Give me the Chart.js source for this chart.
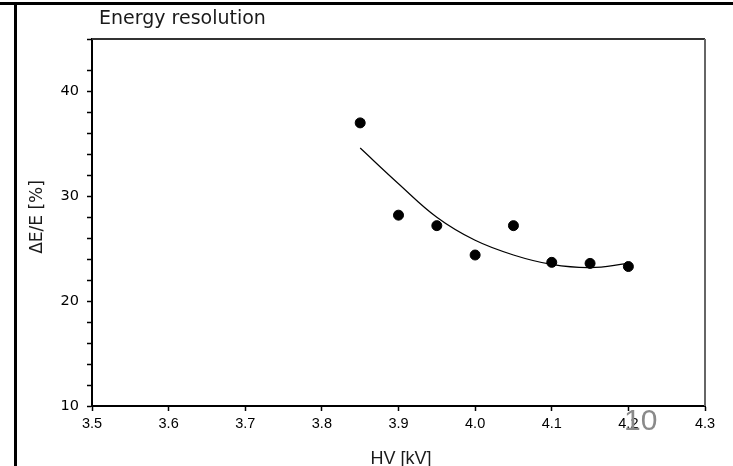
<!DOCTYPE html>
<html>
<head>
<meta charset="utf-8">
<script src="https://cdn.jsdelivr.net/npm/chart.js"></script>
<style>
  html, body { margin: 0; padding: 0; background: #fff; }
  #wrap { position: relative; width: 733px; height: 466px; }
</style>
</head>
<body>
<div id="wrap"><canvas id="chart"></canvas></div>
<script>
// measured points (HV in kV, resolution in %)
const hv = [3.85, 3.9, 3.95, 4.0, 4.05, 4.1, 4.15, 4.2];
const resolution = [37.0, 28.2, 27.2, 24.4, 27.2, 23.7, 23.6, 23.3];

// fitted curve
const fitHv = [3.85, 3.9, 3.95, 4.0, 4.05, 4.1, 4.15, 4.2];
const fitResolution = [34.6, 31.2, 28.0, 25.8, 24.4, 23.5, 23.2, 23.6];

// y tick values that carry a label (minor ticks every 2)
const yLabelValues = [10, 20, 30, 40];

const toXY = (xs, ys) => xs.map((x, i) => ({x: x, y: ys[i]}));

// frame, titles and the page number drawn on top of the chart
const decorations = {
    id: 'decorations',
    beforeDatasetsDraw(chart) {
        const {ctx, chartArea: a} = chart;
        ctx.save();
        ctx.lineWidth = 2;
        ctx.strokeStyle = '#333';
        ctx.beginPath();
        ctx.moveTo(a.left, a.top);
        ctx.lineTo(a.right, a.top);
        ctx.stroke();
        ctx.strokeStyle = '#666';
        ctx.beginPath();
        ctx.moveTo(a.right, a.top);
        ctx.lineTo(a.right, a.bottom);
        ctx.stroke();
        ctx.restore();
    },
    afterDraw(chart) {
        const ctx = chart.ctx;
        ctx.save();
        // outer page frame
        ctx.fillStyle = '#000';
        ctx.fillRect(0, 2, 733, 3);
        ctx.fillRect(14, 2, 3, 464);

        ctx.fillStyle = '#1a1a1a';
        ctx.textBaseline = 'alphabetic';
        ctx.textAlign = 'left';
        ctx.font = '19px "DejaVu Sans"';
        ctx.fillText('Energy resolution', 99, 24);

        ctx.textAlign = 'center';
        ctx.font = '18px "Liberation Sans"';
        ctx.fillText('HV [kV]', 401, 464);

        ctx.save();
        ctx.translate(42, 217);
        ctx.rotate(-Math.PI / 2);
        ctx.font = '17px "DejaVu Sans"';
        ctx.fillText('\u0394E/E [%]', 0, 0);
        ctx.restore();

        // page number overlay
        ctx.fillStyle = '#8a8a8a';
        ctx.textAlign = 'left';
        ctx.font = '30px "Liberation Sans Narrow", "Liberation Sans"';
        ctx.fillText('10', 624, 430);
        ctx.restore();
    }
};

new Chart(document.getElementById('chart'), {
    type: 'scatter',
    data: {
        datasets: [
            {
                label: 'fit',
                type: 'line',
                data: toXY(fitHv, fitResolution),
                borderColor: '#000',
                borderWidth: 1.2,
                pointRadius: 0,
                tension: 0.4,
                fill: false
            },
            {
                label: 'data',
                data: toXY(hv, resolution),
                backgroundColor: '#000',
                borderColor: '#000',
                pointRadius: 5,
                pointHoverRadius: 5
            }
        ]
    },
    options: {
        responsive: true,
        maintainAspectRatio: false,
        animation: false,
        layout: {padding: {left: 20, right: 28, top: 39, bottom: 0}},
        plugins: {
            legend: {display: false},
            tooltip: {enabled: false}
        },
        scales: {
            x: {
                type: 'linear',
                min: 3.5,
                max: 4.3,
                afterFit: (scale) => { scale.height = 60; },
                border: {color: '#000', width: 2},
                grid: {drawOnChartArea: false, color: '#000', tickLength: 5, tickWidth: 1.5},
                ticks: {
                    stepSize: 0.1,
                    padding: 4,
                    color: '#000',
                    font: {family: 'Liberation Sans', size: 14.5},
                    callback: (v) => v.toFixed(1)
                }
            },
            y: {
                min: 10,
                max: 45,
                afterFit: (scale) => { scale.width = 72; },
                border: {color: '#000', width: 2},
                grid: {drawOnChartArea: false, color: '#000', tickLength: 5, tickWidth: 1.5},
                ticks: {
                    stepSize: 2,
                    padding: 8,
                    color: '#000',
                    autoSkip: false,
                    font: {family: 'DejaVu Sans', size: 14.5},
                    callback: (v) => yLabelValues.includes(v) ? String(v) : ''
                }
            }
        }
    },
    plugins: [decorations]
});
</script>
</body>
</html>
